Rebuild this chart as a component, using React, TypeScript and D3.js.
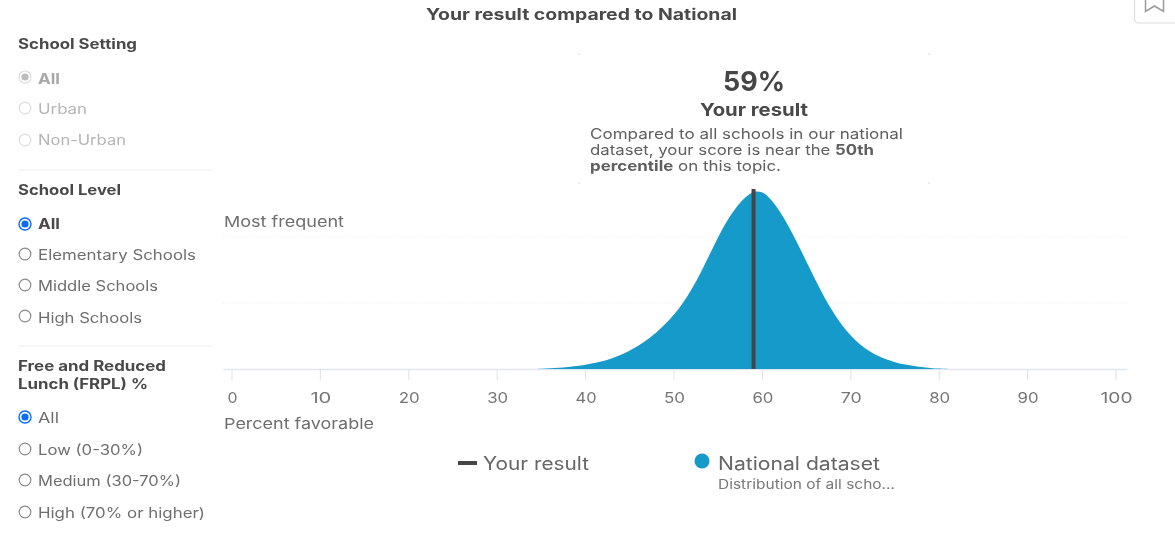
import React from "react";
import { scaleLinear, area, curveCatmullRom } from "d3";

const percentFavorable = [34,35,36,37,38,39,40,41,42,43,44,45,46,47,48,49,50,51,52,53,54,55,56,57,58,59,60,61,62,63,64,65,66,67,68,69,70,71,72,73,74,75,76,77,78,79,80,81];
const frequency = [0,0.3,0.7,1.2,1.9,3,4.3,5.9,8,10.8,14.3,18.5,23.5,29.5,36.5,45,54.5,66,80,96,114,132,148,161,171,177,176.5,169,157,142,125,107,89,72,57,44,33.5,25,18.5,13.5,9.7,6.8,4.7,3.2,2,1.1,0.4,0];
const xTicks = [0,10,20,30,40,50,60,70,80,90,100];
const yGrid = [66,132];
const yourResult = 59;

const settingOptions = ["All","Urban","Non-Urban"];
const settingWidths = [22,49,88];
const levelOptions = ["All","Elementary Schools","Middle Schools","High Schools"];
const levelWidths = [22,158,120,104];
const frplOptions = ["All","Low (0-30%)","Medium (30-70%)","High (70% or higher)"];
const frplWidths = [21,105,143,167];

const FONT = "Inter, 'Open Sans', sans-serif";
const INK = "#4a4a4a";
const BLUE = "#169ac9";
const DARK = "#454545";

const x = scaleLinear().domain([0,100]).range([232,1116]);
const y = scaleLinear().domain([0,132]).range([369,237]);

const areaPath = area<number>()
  .x((_, i) => x(percentFavorable[i]))
  .y0(y(0))
  .y1((d) => y(d))
  .curve(curveCatmullRom)(frequency) || "";

type RState = "disabled"|"disabledOn"|"off"|"on";

function T({w, children, ...rest}: any) {
  return <text textLength={w} lengthAdjust="spacingAndGlyphs" {...rest}>{children}</text>;
}

function Radio({cy, state}: {cy:number; state:RState}) {
  if (state === "on") return <g><circle cx={25} cy={cy} r={6} fill="#fff" stroke="#0a6cf5" strokeWidth={1.4}/><circle cx={25} cy={cy} r={3.6} fill="#0a6cf5"/></g>;
  if (state === "disabledOn") return <g><circle cx={25} cy={cy} r={6} fill="#fff" stroke="#ddd" strokeWidth={1.2}/><circle cx={25} cy={cy} r={3.6} fill="#bdbdbd"/></g>;
  return <circle cx={25} cy={cy} r={5.8} fill="#fff" stroke={state==="off"?"#8a8a8a":"#dcdcdc"} strokeWidth={1.2}/>;
}

function Option({label, w, radioY, textY, state, bold}:{label:string;w:number;radioY:number;textY:number;state:RState;bold?:boolean}) {
  const disabled = state==="disabled"||state==="disabledOn";
  return <g>
    <Radio cy={radioY} state={state}/>
    <T w={w} x={38} y={textY} fontSize={14} fontWeight={bold?700:400} fill={disabled?(bold?"#a8a8a8":"#b5b5b5"):(bold?INK:"#6e6e6e")}>{label}</T>
  </g>;
}

export default function App() {
  const settingY = [[77,84],[108,114],[140,145]];
  const levelY = [[224,229],[254,260],[285,291],[316,323]];
  const frplY = [[417,423],[449,455],[480,486],[512,518]];
  return (
    <svg width={1175} height={533} style={{position:"absolute",left:0,top:0,display:"block",background:"#fff"}} fontFamily={FONT}>
      <defs>
        <filter id="soft" x="0" y="0" width="100%" height="100%"><feGaussianBlur stdDeviation="0.35"/></filter>
      </defs>
      <g filter="url(#soft)">
      {/* bookmark button */}
      <rect x={1134.5} y={-12} width={50} height={35} rx={4} fill="#fff" stroke="#dedede" strokeWidth={1.2}/>
      <path d="M1145.5 -4V11.5L1154.5 6L1163.5 11.5V-4" fill="none" stroke="#9a9a9a" strokeWidth={1.5}/>

      <T w={311} x={426} y={20} fontSize={15.5} fontWeight={700} fill={INK}>Your result compared to National</T>

      {/* sidebar */}
      <T w={119} x={18} y={49} fontSize={14} fontWeight={700} fill={INK}>School Setting</T>
      {settingOptions.map((o,i)=><Option key={o} label={o} w={settingWidths[i]} radioY={settingY[i][0]} textY={settingY[i][1]} state={i===0?"disabledOn":"disabled"} bold={i===0}/>)}
      <line x1={18} x2={212} y1={170} y2={170} stroke="#eeeeee"/>
      <T w={103} x={18} y={195} fontSize={14} fontWeight={700} fill={INK}>School Level</T>
      {levelOptions.map((o,i)=><Option key={o} label={o} w={levelWidths[i]} radioY={levelY[i][0]} textY={levelY[i][1]} state={i===0?"on":"off"} bold={i===0}/>)}
      <line x1={18} x2={212} y1={346} y2={346} stroke="#eeeeee"/>
      <T w={148} x={18} y={371} fontSize={14} fontWeight={700} fill={INK}>Free and Reduced</T>
      <T w={130} x={18} y={389} fontSize={14} fontWeight={700} fill={INK}>Lunch (FRPL) %</T>
      {frplOptions.map((o,i)=><Option key={o} label={o} w={frplWidths[i]} radioY={frplY[i][0]} textY={frplY[i][1]} state={i===0?"on":"off"}/>)}

      {/* grid */}
      {yGrid.map(g=><line key={g} x1={223} x2={1127} y1={y(g)} y2={y(g)} stroke="#ebebeb" strokeDasharray="1 2"/>)}
      <T w={120} x={224} y={227} fontSize={15} fill="#6e6e6e">Most frequent</T>

      {/* axis */}
      <line x1={223} x2={1127} y1={369.5} y2={369.5} stroke="#dfe6f1" strokeWidth={1.5}/>
      {xTicks.map(t=><g key={t}>
        <line x1={x(t)} x2={x(t)} y1={369} y2={380} stroke="#dfe6f1" strokeWidth={1.2}/>
        <T w={t===0?10:t===100?32:21} x={x(t)+0.5-(t===0?5:t===100?16:10.5)} y={402.5} fontSize={15} fill="#757575">{t}</T>
      </g>)}
      <T w={150} x={224} y={429} fontSize={15} fill="#6e6e6e">Percent favorable</T>

      {/* marks */}
      <path d={areaPath} fill={BLUE}/>
      <line x1={x(yourResult)} x2={x(yourResult)} y1={189} y2={369} stroke={DARK} strokeWidth={4}/>

      {/* tooltip */}
      {[[579,54],[929,54],[579,183],[929,183]].map(([a,b],i)=><rect key={i} x={a-1} y={b-1} width={2} height={2} fill="#eeeeee"/>)}
      <T w={62} x={723} y={91} fontSize={27} fontWeight={700} fill={DARK}>{yourResult}%</T>
      <T w={108} x={700} y={116} fontSize={18} fontWeight={700} fill={INK}>Your result</T>
      <T w={313} x={590} y={139} fontSize={14.5} fill="#5f5f5f">Compared to all schools in our national</T>
      <T w={284} x={590} y={155} fontSize={14.5} fill="#5f5f5f">dataset, your score is near the <tspan fontWeight={700}>50th</tspan></T>
      <T w={191} x={590} y={171} fontSize={14.5} fill="#5f5f5f"><tspan fontWeight={700}>percentile</tspan> on this topic.</T>

      {/* legend */}
      <rect x={458} y={461} width={19} height={4} fill={DARK}/>
      <T w={106} x={483} y={469.5} fontSize={18} fill="#666">Your result</T>
      <circle cx={702} cy={461} r={7.5} fill={BLUE}/>
      <T w={162} x={718} y={469.5} fontSize={18} fill="#666">National dataset</T>
      <T w={177} x={718} y={489} fontSize={13} fill="#777">Distribution of all scho...</T>
      </g>
    </svg>
  );
}
